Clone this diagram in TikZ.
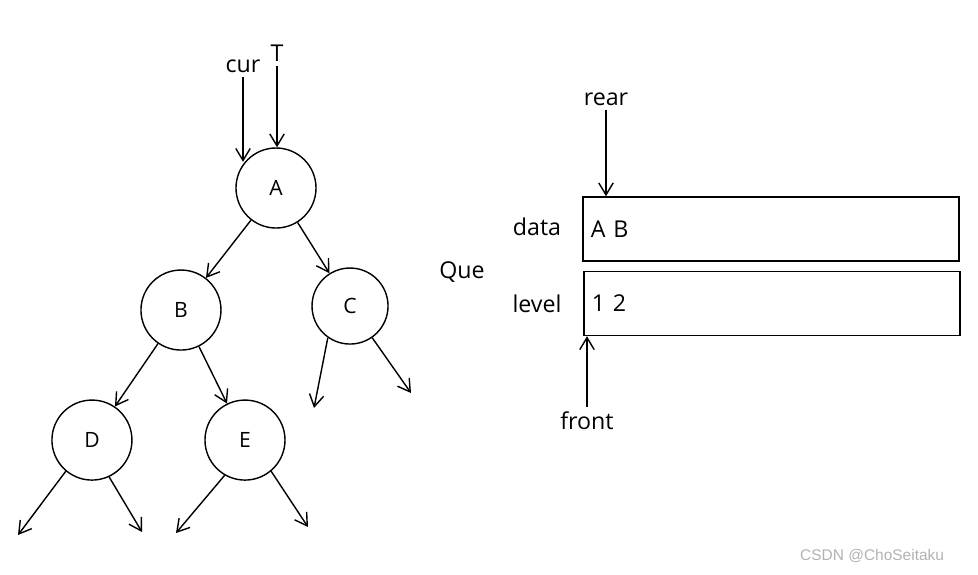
\documentclass[tikz,border=0pt]{standalone}
\usepackage{fontspec}
\setmainfont{Open Sans}
\newfontfamily\markfont{Liberation Sans}
\usetikzlibrary{arrows.meta,positioning}

\begin{document}
\begin{tikzpicture}[x=0.025cm, y=-0.025cm, font=\fontsize{16.5}{20}\selectfont]
    \tikzstyle{vertex} = [circle, draw, line width=1pt, minimum size=2cm, inner sep=0pt, font=\fontsize{15}{18}\selectfont]
    \tikzstyle{cell} = [rectangle, draw, line width=1pt, minimum width=9.4cm, minimum height=1.6cm, text width=9cm, align=left]
    \tikzstyle{arrow} = [line width=1pt, -{Straight Barb[length=3mm,width=3.6mm]}]

    \useasboundingbox (0,0) rectangle (978,574);

    % Tree
    \node [vertex] (A) at (276,188) {A};
    \node [vertex, on grid, below left=3.05cm and 2.375cm of A] (B) {B};
    \node [vertex, on grid, below right=2.95cm and 1.85cm of A, minimum size=1.9cm] (C) {C};
    \node [vertex, on grid, below left=3.25cm and 2.225cm of B] (D) {D};
    \node [vertex, on grid, below right=3.25cm and 1.6cm of B] (E) {E};

    % Empty children
    \coordinate (Cl) at (314,408);
    \coordinate (Cr) at (411,393);
    \coordinate (Dl) at (18,535);
    \coordinate (Dr) at (142,532);
    \coordinate (El) at (176,533);
    \coordinate (Er) at (308,527);

    % Pointers into the tree
    \node (cur) at (243,66) {cur};
    \node (T) at (277,53) {T};

    \draw [arrow] (A) -- (B);
    \draw [arrow] (A) -- (C);
    \draw [arrow] (B) -- (D);
    \draw [arrow] (B) -- (E);
    \draw [arrow] (C.235) -- (Cl);
    \draw [arrow] (C.305) -- (Cr);
    \draw [arrow] (D.230) -- (Dl);
    \draw [arrow] (D.295) -- (Dr);
    \draw [arrow] (E.240) -- (El);
    \draw [arrow] (E.310) -- (Er);
    \draw [arrow] (cur.south) -- (cur.south |- A.140);
    \draw [arrow] (T.south) -- (T.south |- A.north);

    % Queue
    \node [cell] (data) at (771,229) {A B};
    \node [cell] (level) at (772,303.5) {1 2};
    \node (datalbl) at (537,227) {data};
    \node (levellbl) at (537,304) {level};
    \node (que) at (462,272) {Que};
    \node (rear) at (606,99) {rear};
    \node (front) at (587,421) {front};

    \draw [arrow] (rear.south) -- (rear.south |- data.north);
    \draw [arrow] (front.north) -- (front.north |- level.south);

    % Watermark
    \node [text=black!30, font=\markfont\fontsize{11}{14}\selectfont, anchor=east] (mark) at (949,556) {CSDN @ChoSeitaku};
\end{tikzpicture}
\end{document}
